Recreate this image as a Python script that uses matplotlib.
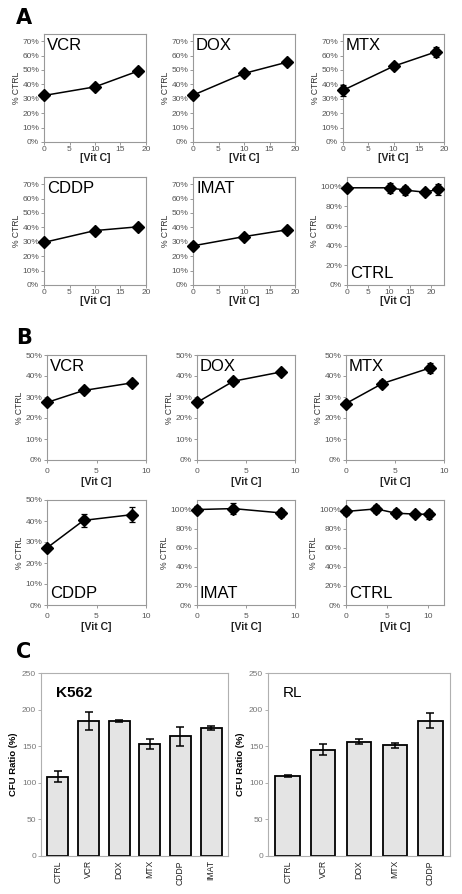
import matplotlib
matplotlib.use("Agg")
import matplotlib.pyplot as plt
from matplotlib.ticker import PercentFormatter

plt.rcParams["font.family"] = ["Liberation Sans", "DejaVu Sans"]

# panel A: vit C doses and % of control
A_X = [0, 10, 18.4]
A_VCR = [32.3, 38.3, 49.2]
A_DOX = [32.5, 47.6, 55.4]
A_MTX = [35.9, 52.6, 62.6]
A_MTX_ERR = [3.8, 2.0, 3.5]
A_CDDP = [29.6, 37.8, 40.4]
A_IMAT = [27.2, 33.6, 38.3]
A_CTRL_X = [0, 10.1, 13.8, 18.4, 21.6]
A_CTRL = [99.0, 99.0, 96.6, 94.6, 97.3]
A_CTRL_ERR = [3.0, 5.0, 4.7, 2.2, 5.4]

# panel B
B_X = [0, 3.7, 8.55]
B_VCR = [27.4, 33.1, 36.7]
B_DOX = [27.4, 37.5, 41.9]
B_MTX = [26.9, 36.4, 43.8]
B_MTX_ERR = [1.0, 1.5, 2.5]
B_CDDP = [27.2, 40.3, 43.0]
B_CDDP_ERR = [1.0, 3.0, 3.5]
B_IMAT = [100.0, 101.0, 96.5]
B_IMAT_ERR = [4.0, 6.0, 4.0]
B_CTRL_X = [0, 3.7, 6.1, 8.5, 10.2]
B_CTRL = [98.0, 100.7, 96.2, 95.2, 95.0]
B_CTRL_ERR = [4.0, 4.5, 4.0, 2.0, 5.0]

# panel C: CFU ratio
K562_CATS = ["CTRL", "VCR", "DOX", "MTX", "CDDP", "IMAT"]
K562_VALS = [108.6, 184.3, 184.5, 153.3, 163.3, 175.2]
K562_ERR = [8.0, 12.5, 1.0, 7.0, 12.5, 3.0]
RL_CATS = ["CTRL", "VCR", "DOX", "MTX", "CDDP"]
RL_VALS = [109.0, 145.0, 156.0, 151.5, 184.8]
RL_ERR = [1.0, 7.5, 3.5, 3.5, 10.0]

W, H = 462, 894
SPINE = "#999999"
TICKC = "#555555"

fig = plt.figure(figsize=(W / 100, H / 100), dpi=100)


def box(l, t, r, b):
    return fig.add_axes([l / W, 1 - b / H, (r - l) / W, (b - t) / H])


def style(ax, spine=SPINE):
    for s in ax.spines.values():
        s.set_color(spine)
        s.set_linewidth(0.8)
    ax.tick_params(colors=spine, labelcolor=TICKC, labelsize=6, length=2, width=0.7, pad=1.5)


def line_panel(ax, x, y, label, ylim, yticks, xlim, xticks, err=None,
               label_bottom=False, xpad=1.0, lpad=0.0):
    ax.errorbar(x, y, yerr=err, color="black", lw=1.1, marker="D", ms=6.5,
                elinewidth=0.9, capsize=2, capthick=0.9, clip_on=False, zorder=3)
    ax.set_xlim(*xlim)
    ax.set_ylim(*ylim)
    ax.set_xticks(xticks)
    ax.set_yticks(yticks)
    ax.yaxis.set_major_formatter(PercentFormatter(decimals=0))
    style(ax)
    ax.tick_params(axis="x", pad=xpad)
    ax.set_xlabel("[Vit C]", fontsize=7.5, fontweight="bold", labelpad=lpad, color="#222222")
    ax.set_ylabel("% CTRL", fontsize=6.2, labelpad=1, color="#333333")
    if label_bottom:
        ax.text(0.03, 0.04, label, transform=ax.transAxes, fontsize=12, va="bottom", ha="left")
    else:
        ax.text(0.03, 0.96, label, transform=ax.transAxes, fontsize=12, va="top", ha="left")


yA = range(0, 71, 10)
xA = [0, 5, 10, 15, 20]
cols = [(44, 146), (193, 295), (343, 444)]

line_panel(box(cols[0][0], 34, cols[0][1], 142), A_X, A_VCR, "VCR", (0, 75), yA, (0, 20), xA, xpad=1, lpad=0)
line_panel(box(cols[1][0], 34, cols[1][1], 142), A_X, A_DOX, "DOX", (0, 75), yA, (0, 20), xA, xpad=1, lpad=0)
line_panel(box(cols[2][0], 34, cols[2][1], 142), A_X, A_MTX, "MTX", (0, 75), yA, (0, 20), xA, err=A_MTX_ERR, xpad=1, lpad=0)
line_panel(box(cols[0][0], 177, cols[0][1], 285), A_X, A_CDDP, "CDDP", (0, 75), yA, (0, 20), xA, xpad=1, lpad=0)
line_panel(box(cols[1][0], 177, cols[1][1], 285), A_X, A_IMAT, "IMAT", (0, 75), yA, (0, 20), xA, xpad=1, lpad=0)
line_panel(box(347, 177, 444, 285), A_CTRL_X, A_CTRL, "CTRL", (0, 110), range(0, 101, 20), (0, 23), xA,
           err=A_CTRL_ERR, label_bottom=True, xpad=1, lpad=0)

yB = range(0, 51, 10)
xB = [0, 5, 10]
colsB = [(47, 146), (197, 295), (346, 444)]
line_panel(box(colsB[0][0], 355, colsB[0][1], 460), B_X, B_VCR, "VCR", (0, 50), yB, (0, 10), xB, xpad=4, lpad=1)
line_panel(box(colsB[1][0], 355, colsB[1][1], 460), B_X, B_DOX, "DOX", (0, 50), yB, (0, 10), xB, xpad=4, lpad=1)
line_panel(box(colsB[2][0], 355, colsB[2][1], 460), B_X, B_MTX, "MTX", (0, 50), yB, (0, 10), xB,
           err=B_MTX_ERR, xpad=4, lpad=1)
line_panel(box(colsB[0][0], 500, colsB[0][1], 605), B_X, B_CDDP, "CDDP", (0, 50), yB, (0, 10), xB,
           err=B_CDDP_ERR, label_bottom=True, xpad=4, lpad=1)
line_panel(box(colsB[1][0], 500, colsB[1][1], 605), B_X, B_IMAT, "IMAT", (0, 110), range(0, 101, 20), (0, 10), xB,
           err=B_IMAT_ERR, label_bottom=True, xpad=4, lpad=1)
line_panel(box(colsB[2][0], 500, colsB[2][1], 605), B_CTRL_X, B_CTRL, "CTRL", (0, 110), range(0, 101, 20), (0, 12), xB,
           err=B_CTRL_ERR, label_bottom=True, xpad=4, lpad=1)


def bar_panel(ax, cats, vals, err, label, weight):
    ax.bar(range(len(cats)), vals, width=0.68, color="#e4e4e4", edgecolor="black", lw=1.3,
           yerr=err, error_kw=dict(elinewidth=1.1, capsize=3, capthick=1.1, ecolor="black"))
    ax.set_xlim(-0.55, len(cats) - 0.45)
    ax.set_ylim(0, 250)
    ax.set_yticks(range(0, 251, 50))
    ax.set_xticks(range(len(cats)))
    ax.set_xticklabels(cats, rotation=90)
    style(ax, spine="#b0b0b0")
    ax.tick_params(axis="x", length=0, labelcolor="#222222", labelsize=6.2, pad=3)
    ax.tick_params(axis="y", labelcolor="#777777")
    ax.set_ylabel("CFU Ratio (%)", fontsize=6.8, fontweight="bold", labelpad=3)
    ax.text(0.08, 0.93, label, transform=ax.transAxes, fontsize=11, fontweight=weight, va="top")


bar_panel(box(41, 673, 228, 856), K562_CATS, K562_VALS, K562_ERR, "K562", "bold")
bar_panel(box(268, 673, 450, 856), RL_CATS, RL_VALS, RL_ERR, "RL", "normal")

for letter, y in [("A", 18), ("B", 338), ("C", 652)]:
    fig.text(16 / W, 1 - y / H, letter, fontsize=15, fontweight="bold", va="center", ha="left",
             family="DejaVu Sans")

fig.savefig("out.png", dpi=100)
